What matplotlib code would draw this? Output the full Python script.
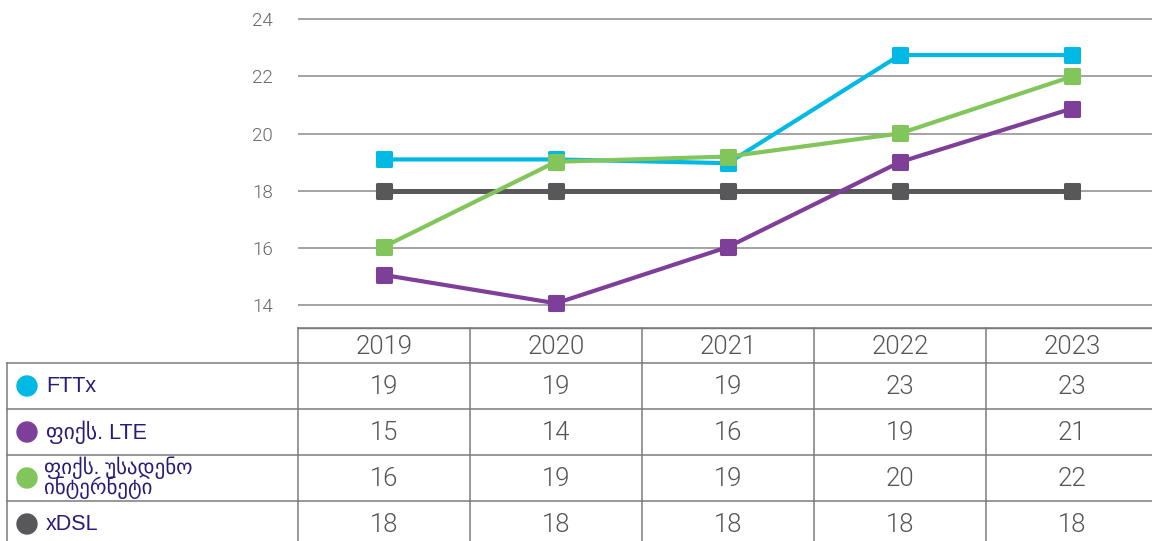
import matplotlib
matplotlib.use("Agg")
import matplotlib.pyplot as plt
from matplotlib.markers import MarkerStyle
from matplotlib.transforms import blended_transform_factory
from matplotlib.patches import Circle

years = ["2019", "2020", "2021", "2022", "2023"]
series_names = ["FTTx", "ფიქს. LTE", "ფიქს. უსადენო\nინტერნეტი", "xDSL"]
fttx = [19.1, 19.1, 18.97, 22.75, 22.75]
lte = [15.06, 14.07, 16.04, 19.01, 20.88]
wireless = [16.05, 19.02, 19.2, 20.01, 22.0]
xdsl = [18.0, 18.0, 18.0, 18.0, 18.0]
colors = ["#00B9E4", "#7E3F98", "#82C55B", "#58585A"]
yticks = [14, 16, 18, 20, 22, 24]

W, H = 1152, 541
fig = plt.figure(figsize=(W / 100, H / 100), dpi=100)

num_font = dict(family=["Roboto", "DejaVu Sans"], weight=300)
label_font = ["Liberation Sans", "DejaVu Sans"]

# chart area (pixel layout converted to figure fractions)
ax_left, ax_top_px, ax_bot_px = 298, 0, 328
ax = fig.add_axes([ax_left / W, 1 - ax_bot_px / H, (W - ax_left) / W, (ax_bot_px - ax_top_px) / H])
ax.set_xlim(-0.5, 4.5 - 6 / 172)
ax.set_ylim(14 - (328 - 305.3) / 28.6, 24 + 19.3 / 28.6)
ax.set_yticks(yticks)
ax.set_yticklabels([str(t) for t in yticks], fontsize=13.5, color="#666666", **num_font)
ax.tick_params(axis="y", length=0, pad=18)
ax.set_xticks([])
ax.grid(axis="y", color="#8a8a8a", linewidth=1.1)
ax.set_axisbelow(True)
for s in ["left", "right", "top"]:
    ax.spines[s].set_visible(False)
ax.spines["bottom"].set_color("#777777")
ax.spines["bottom"].set_linewidth(1.0)

mk = MarkerStyle("s", joinstyle="round")
xs = list(range(len(years)))
draw_order = [(xdsl, colors[3], 3.6), (fttx, colors[0], 3.0), (lte, colors[1], 3.0), (wireless, colors[2], 3.0)]
for z, (vals, c, lw) in enumerate(draw_order):
    ax.plot(xs, vals, color=c, linewidth=lw, marker=mk, markersize=10.5,
            markeredgewidth=2.2, markerfacecolor=c, markeredgecolor=c,
            solid_joinstyle="round", zorder=3 + z, clip_on=False)

# data table below the chart
tab = fig.add_axes([0, 0, 1, 1])
tab.set_xlim(0, W)
tab.set_ylim(H, 0)
tab.axis("off")
tr = blended_transform_factory(ax.transData, tab.transData)

line_c = "#7a7a7a"
lw_t = 1.1
header_top, header_bot = 328, 363
row_h = 46
row_tops = [header_bot + i * row_h for i in range(4)]

# horizontal rules
tab.plot([298, W], [header_top, header_top], color=line_c, lw=lw_t)
for y in row_tops:
    tab.plot([7, W], [y, y], color=line_c, lw=lw_t)
# vertical rules
tab.plot([7, 7], [header_bot, H], color=line_c, lw=lw_t)
for i in range(len(years)):
    tab.plot([i - 0.5, i - 0.5], [header_top, H], color=line_c, lw=lw_t, transform=tr)

# header
for i, yr in enumerate(years):
    tab.text(i, (header_top + header_bot) / 2 + 1, yr, transform=tr, ha="center", va="center",
             fontsize=18.5, color="#555555", **num_font)

table_rows = [fttx, lte, wireless, xdsl]
for r, (vals, name, c) in enumerate(zip(table_rows, series_names, colors)):
    yc = row_tops[r] + row_h / 2
    tab.add_patch(Circle((27, yc), 10, color=c))
    if "\n" in name:
        tab.text(44, yc, name, ha="left", va="center", fontsize=15, color="#2C1A7A",
                 family=label_font, linespacing=0.85)
    else:
        tab.text(46, yc, name, ha="left", va="center", fontsize=15.5, color="#2C1A7A",
                 family=label_font)
    for i, v in enumerate(vals):
        tab.text(i, yc + 1, f"{round(v):d}", transform=tr, ha="center", va="center",
                 fontsize=18.5, color="#555555", **num_font)

fig.savefig("out.png", dpi=100)
